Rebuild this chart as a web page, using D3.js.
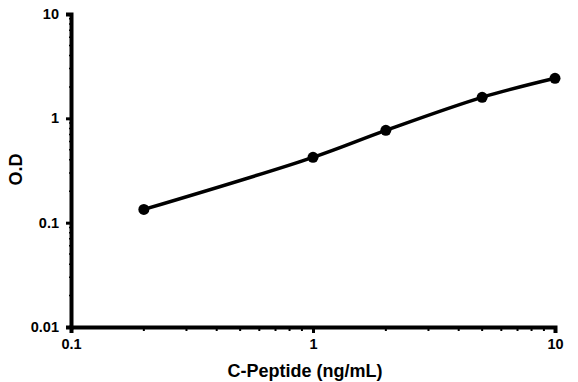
<!DOCTYPE html>
<html><head><meta charset="utf-8">
<script src="https://cdn.jsdelivr.net/npm/d3@7"></script>
<style>body{margin:0;background:#fff}svg{display:block}text{font-family:"Liberation Sans",Arial,sans-serif;font-weight:bold;fill:#000}</style>
</head><body><div id="c"></div>
<script>
const concentrations = [0.2, 1, 2, 5, 10];
const odValues = [0.134, 0.423, 0.767, 1.59, 2.42];
const xTicks = [0.1, 1, 10];
const yTicks = [0.01, 0.1, 1, 10];
const xLabel = "C-Peptide (ng/mL)";
const yLabel = "O.D";

const W = 578, H = 382;
const m = {left: 71, right: 23, top: 14, bottom: 55};
const svg = d3.select("#c").append("svg").attr("width", W).attr("height", H);
const x = d3.scaleLog().domain([0.1, 10]).range([m.left, W - m.right]);
const y = d3.scaleLog().domain([0.01, 10]).range([H - m.bottom, m.top]);

// minor ticks
const xMinor = [];
for (let d = 0.1; d < 10; d *= 10) for (let k = 2; k <= 9; k++) xMinor.push(+(d * k).toFixed(3));
const yMinor = [];
for (let d = 0.01; d < 10; d *= 10) for (let k = 2; k <= 9; k++) yMinor.push(+(d * k).toFixed(4));

const gx = svg.append("g").attr("transform", `translate(0,${H - m.bottom})`);
gx.selectAll("line.minor").data(xMinor).join("line")
  .attr("x1", d => x(d)).attr("x2", d => x(d)).attr("y1", 0).attr("y2", 4)
  .attr("stroke", "#000").attr("stroke-width", 2);
gx.call(d3.axisBottom(x).tickValues(xTicks).tickFormat(d => String(d)).tickSize(6).tickPadding(6))
  .call(g => g.select(".domain").attr("stroke-width", 4))
  .call(g => g.selectAll(".tick line").attr("stroke-width", 3))
  .call(g => g.selectAll(".tick text").attr("font-size", 14.5).attr("font-family", '"Liberation Sans",Arial,sans-serif').attr("font-weight", "bold"));

const gy = svg.append("g").attr("transform", `translate(${m.left},0)`);
gy.selectAll("line.minor").data(yMinor).join("line")
  .attr("x1", -2).attr("x2", 0).attr("y1", d => y(d)).attr("y2", d => y(d))
  .attr("stroke", "#000").attr("stroke-width", 1.5);
gy.call(d3.axisLeft(y).tickValues(yTicks).tickFormat(d => String(d)).tickSize(5).tickPadding(7))
  .call(g => g.select(".domain").attr("stroke-width", 4))
  .call(g => g.selectAll(".tick line").attr("stroke-width", 3))
  .call(g => g.selectAll(".tick text").attr("font-size", 14.5).attr("font-family", '"Liberation Sans",Arial,sans-serif').attr("font-weight", "bold"));
svg.selectAll(".domain").attr("stroke", "#000");

const pts = concentrations.map((c, i) => [c, odValues[i]]);
const line = d3.line().x(d => x(d[0])).y(d => y(d[1])).curve(d3.curveCatmullRom.alpha(0.5));
svg.append("path").datum(pts).attr("d", line).attr("fill", "none").attr("stroke", "#000").attr("stroke-width", 3.5);
svg.selectAll("circle.pt").data(pts).join("circle")
  .attr("cx", d => x(d[0])).attr("cy", d => y(d[1])).attr("r", 5.5).attr("fill", "#000");

svg.append("text").attr("x", 305).attr("y", 377).attr("text-anchor", "middle")
  .attr("font-size", 18).text(xLabel);
svg.append("text").attr("transform", `translate(22,${(y(0.01) + y(10)) / 2 - 1}) rotate(-90)`).attr("text-anchor", "middle")
  .attr("font-size", 18).text(yLabel);
</script></body></html>
